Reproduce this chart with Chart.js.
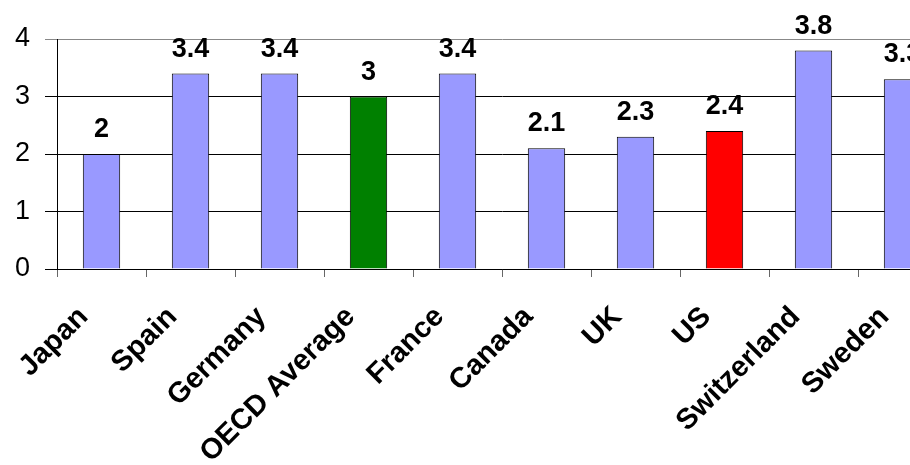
<!DOCTYPE html>
<html>
<head>
<meta charset="utf-8">
<script src="https://cdn.jsdelivr.net/npm/chart.js@4"></script>
<style>
  html, body { margin: 0; padding: 0; background: #fff; overflow: hidden; }
  #wrap { width: 960px; height: 465px; }
</style>
</head>
<body>
<div id="wrap"><canvas id="grafico" width="960" height="465"></canvas></div>
<script>
// dados
var paises = ['Japan', 'Spain', 'Germany', 'OECD Average', 'France', 'Canada', 'UK', 'US', 'Switzerland', 'Sweden'];
var valores = [2, 3.4, 3.4, 3, 3.4, 2.1, 2.3, 2.4, 3.8, 3.3];
var coresBarras = ['#9999FF', '#9999FF', '#9999FF', '#008000', '#9999FF', '#9999FF', '#9999FF', '#FF0000', '#9999FF', '#9999FF'];
var ticksY = [0, 1, 2, 3, 4];

// rotulos de valor em cima das barras (sem plugin externo)
var rotulosValor = {
    id: 'rotulosValor',
    afterDatasetsDraw: function (chart) {
        var ctx = chart.ctx;
        var meta = chart.getDatasetMeta(0);
        ctx.save();
        ctx.font = 'bold 27px "Liberation Sans", Arial, sans-serif';
        ctx.fillStyle = '#000';
        ctx.textAlign = 'center';
        ctx.textBaseline = 'alphabetic';
        meta.data.forEach(function (bar, i) {
            ctx.fillText(String(valores[i]), bar.x, bar.y - 17);
        });
        ctx.restore();
    }
};

var contexto = document.getElementById('grafico').getContext('2d');

new Chart(contexto, {
    type: 'bar',
    data: {
        labels: paises,
        datasets: [{
            data: valores,
            backgroundColor: coresBarras,
            borderColor: '#000',
            borderWidth: 1,
            barPercentage: 0.42,
            categoryPercentage: 1
        }]
    },
    options: {
        responsive: false,
        animation: false,
        layout: { padding: { top: 39, right: 13, left: 0, bottom: 0 } },
        plugins: {
            legend: { display: false },
            tooltip: { enabled: false }
        },
        scales: {
            y: {
                min: 0,
                max: 4,
                afterFit: function (scale) { scale.width = 57; },
                afterBuildTicks: function (scale) {
                    scale.ticks = ticksY.map(function (v) { return { value: v }; });
                },
                ticks: {
                    color: '#000',
                    padding: 15,
                    font: { family: '"Liberation Sans", Arial, sans-serif', size: 27 }
                },
                grid: {
                    color: function (c) { return c.tick && c.tick.value === 4 ? '#888' : '#000'; },
                    lineWidth: 1,
                    tickLength: 12
                },
                border: { color: '#000', width: 1 }
            },
            x: {
                afterFit: function (scale) { scale.height = 196; },
                ticks: {
                    color: '#000',
                    minRotation: 45,
                    maxRotation: 45,
                    autoSkip: false,
                    padding: 23,
                    labelOffset: -18,
                    font: { family: '"Liberation Sans", Arial, sans-serif', size: 29, weight: 'bold' }
                },
                grid: {
                    offset: true,
                    drawOnChartArea: false,
                    tickLength: 8,
                    color: '#666'
                },
                border: { color: '#000', width: 1 }
            }
        }
    },
    plugins: [rotulosValor]
});
</script>
</body>
</html>
